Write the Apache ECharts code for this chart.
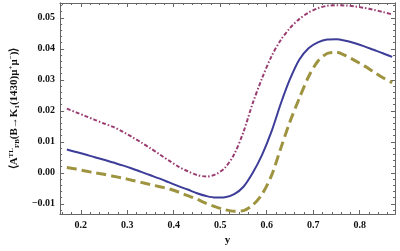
<!DOCTYPE html>
<html>
<head>
<meta charset="utf-8">
<script src="https://cdn.jsdelivr.net/npm/echarts@6/dist/echarts.min.js"></script>
<style>html,body{margin:0;padding:0;background:#fff;}#c{width:400px;height:251px;}</style>
</head>
<body>
<div id="c"></div>
<script>
// ---- data ----
const xValues = [0.17,0.19,0.21,0.23,0.25,0.27,0.29,0.31,0.33,0.35,0.37,0.39,0.41,0.43,0.45,0.47,0.49,0.51,0.53,0.55,0.57,0.59,0.61,0.63,0.65,0.67,0.69,0.71,0.73,0.75,0.77,0.79,0.81,0.83,0.85,0.87];
const upperValues = [0.0207,0.0195,0.0183,0.0171,0.0159,0.0148,0.0133,0.0116,0.0098,0.0079,0.0059,0.0039,0.0020,0.0005,-0.0007,-0.0012,-0.0005,0.0016,0.0060,0.0132,0.0225,0.0305,0.0375,0.0428,0.0467,0.0496,0.0517,0.0531,0.0539,0.0541,0.0540,0.0537,0.0532,0.0526,0.0519,0.0511];
const centralValues = [0.0075,0.0067,0.0059,0.0050,0.0042,0.0033,0.0024,0.0014,0.0003,-0.0008,-0.0019,-0.0031,-0.0043,-0.0054,-0.0066,-0.0075,-0.0080,-0.0079,-0.0069,-0.0045,0.0000,0.0058,0.0132,0.0222,0.0302,0.0365,0.0402,0.0421,0.0430,0.0431,0.0426,0.0418,0.0408,0.0397,0.0386,0.0374];
const lowerValues = [0.0017,0.0012,0.0006,0.0000,-0.0005,-0.0011,-0.0017,-0.0024,-0.0031,-0.0038,-0.0045,-0.0052,-0.0062,-0.0074,-0.0085,-0.0099,-0.0110,-0.0119,-0.0124,-0.0122,-0.0104,-0.0069,-0.0010,0.0078,0.0165,0.0240,0.0310,0.0360,0.0385,0.0389,0.0378,0.0362,0.0345,0.0326,0.0307,0.0291];
const xTicks = [0.2,0.3,0.4,0.5,0.6,0.7,0.8];
const xMinorTicks = [0.16,0.18,0.22,0.24,0.26,0.28,0.32,0.34,0.36,0.38,0.42,0.44,0.46,0.48,0.52,0.54,0.56,0.58,0.62,0.64,0.66,0.68,0.72,0.74,0.76,0.78,0.82,0.84,0.86];
const yTicks = [-0.01,0.00,0.01,0.02,0.03,0.04,0.05];
const yMinorTicks = [-0.012,-0.008,-0.006,-0.004,-0.002,0.002,0.004,0.006,0.008,0.012,0.014,0.016,0.018,0.022,0.024,0.026,0.028,0.032,0.034,0.036,0.038,0.042,0.044,0.046,0.048,0.052,0.054];
const xTitle = 'y';

const pairs = (ys) => xValues.map((x, i) => [x, ys[i]]);
const X_MIN = 0.1555, X_MAX = 0.876, Y_MIN = -0.0133, Y_MAX = 0.0548;
const frame = '#666';
const font = 'Liberation Serif';

function xAx(pos, ticks, len, labels, extra) {
  return Object.assign({
    type: 'value', position: pos, min: X_MIN, max: X_MAX,
    axisLine: { show: true, onZero: false, lineStyle: { color: frame, width: 1 } },
    axisTick: { show: true, inside: true, length: len, customValues: ticks, lineStyle: { color: frame } },
    axisLabel: labels ? { show: true, customValues: ticks, margin: 6, color: '#111', fontFamily: font, fontWeight: 'bold', fontSize: 10, formatter: v => v.toFixed(1) } : { show: false },
    splitLine: { show: false }
  }, extra || {});
}
function yAx(pos, ticks, len, labels, extra) {
  return Object.assign({
    type: 'value', position: pos, min: Y_MIN, max: Y_MAX,
    axisLine: { show: true, onZero: false, lineStyle: { color: frame, width: 1 } },
    axisTick: { show: true, inside: true, length: len, customValues: ticks, lineStyle: { color: frame } },
    axisLabel: labels ? { show: true, customValues: ticks, margin: 5, color: '#111', fontFamily: font, fontWeight: 'bold', fontSize: 10, formatter: v => (v < -1e-9 ? '\u2212' + Math.abs(v).toFixed(2) : Math.abs(v).toFixed(2)) } : { show: false },
    splitLine: { show: false }
  }, extra || {});
}

const chart = echarts.init(document.getElementById('c'), null, { renderer: 'canvas' });
chart.setOption({
  animation: false,
  backgroundColor: '#fff',
  grid: { left: 43, right: 5, top: 3, bottom: 31.5, containLabel: false },
  xAxis: [
    xAx('bottom', xTicks, 4, true, { name: xTitle, nameLocation: 'middle', nameGap: 21, nameTextStyle: { fontFamily: font, fontWeight: 'bold', fontSize: 11, color: '#111' } }),
    xAx('bottom', xMinorTicks, 2, false),
    xAx('top', xTicks, 4, false),
    xAx('top', xMinorTicks, 2, false)
  ],
  yAxis: [
    yAx('left', yTicks, 4, true, {
      name: '{t|\u27E8A}{sup|TL}{sub|FB}{t|(B\u2192K}{sub|1}{t|(1430)\u03BC}{sup|+}{t|\u03BC}{sup|\u2212}{t|)\u27E9}',
      nameLocation: 'middle', nameGap: 32, nameRotate: 90,
      nameTextStyle: {
        fontFamily: font, fontWeight: 'bold', fontSize: 11, color: '#111',
        rich: {
          t: { fontFamily: font, fontWeight: 'bold', fontSize: 11, color: '#111' },
          sup: { fontFamily: font, fontWeight: 'bold', fontSize: 7, color: '#111', verticalAlign: 'top', padding: [0, 0, 6, 0] },
          sub: { fontFamily: font, fontWeight: 'bold', fontSize: 7, color: '#111', verticalAlign: 'bottom', padding: [4, 0, 0, 0] }
        }
      }
    }),
    yAx('left', yMinorTicks, 2, false),
    yAx('right', yTicks, 4, false),
    yAx('right', yMinorTicks, 2, false)
  ],
  series: [
    { type: 'line', name: 'upper', data: pairs(upperValues), smooth: 0.3, showSymbol: false,
      lineStyle: { color: '#993d71', width: 2, type: [4, 2, 1.5, 2] } },
    { type: 'line', name: 'central', data: pairs(centralValues), smooth: 0.3, showSymbol: false,
      lineStyle: { color: '#3d3d99', width: 2, type: 'solid' } },
    { type: 'line', name: 'lower', data: pairs(lowerValues), smooth: 0.3, showSymbol: false,
      lineStyle: { color: '#9e9440', width: 3, type: [10, 5] } }
  ]
});
</script>
</body>
</html>
